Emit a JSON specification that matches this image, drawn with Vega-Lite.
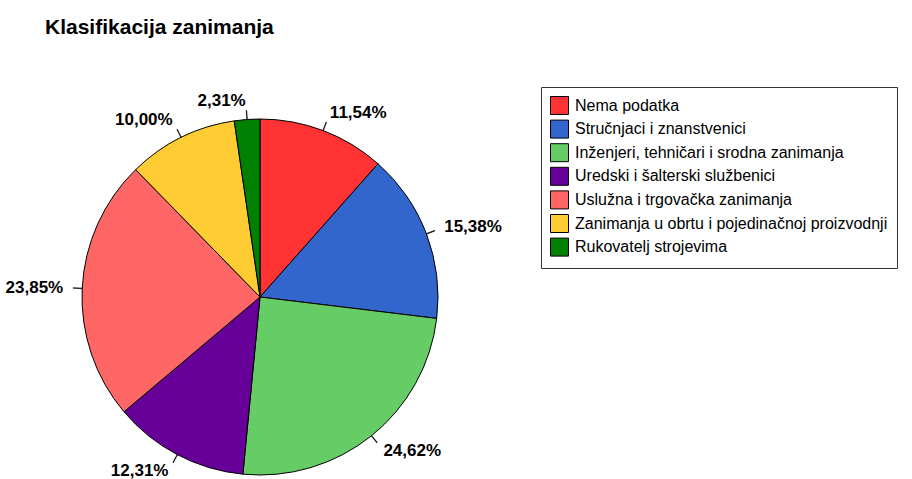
{
  "$schema": "https://vega.github.io/schema/vega-lite/v6.json",
  "width": 440,
  "height": 356,
  "autosize": {"type": "none"},
  "padding": {"left": 40, "top": 119, "right": 432, "bottom": 4},
  "background": "white",
  "title": {"text": "Klasifikacija zanimanja", "anchor": "start", "frame": "group", "offset": 49, "font": "Liberation Sans", "fontSize": 21, "fontWeight": "bold", "color": "black", "dx": 5},
  "config": {"view": {"stroke": null}, "font": "Liberation Sans"},
  "data": {"values": [
    {"kat": "Nema podatka", "pct": 11.54, "red": 1},
    {"kat": "Stručnjaci i znanstvenici", "pct": 15.38, "red": 2},
    {"kat": "Inženjeri, tehničari i srodna zanimanja", "pct": 24.62, "red": 3},
    {"kat": "Uredski i šalterski službenici", "pct": 12.31, "red": 4},
    {"kat": "Uslužna i trgovačka zanimanja", "pct": 23.85, "red": 5},
    {"kat": "Zanimanja u obrtu i pojedinačnoj proizvodnji", "pct": 10.00, "red": 6},
    {"kat": "Rukovatelj strojevima", "pct": 2.31, "red": 7}
  ]},
  "transform": [
    {"window": [{"op": "sum", "field": "pct", "as": "cum"}], "sort": [{"field": "red"}], "frame": [null, 0]},
    {"calculate": "datum.cum - datum.pct / 2", "as": "mid"},
    {"calculate": "datum.mid - 0.03", "as": "lo"},
    {"calculate": "datum.mid + 0.03", "as": "hi"},
    {"calculate": "replace(format(datum.pct, '.2f'), '.', ',') + '%'", "as": "lbl"}
  ],
  "layer": [
    {
      "mark": {"type": "arc", "outerRadius": 178, "stroke": "black", "strokeWidth": 1},
      "encoding": {
        "theta": {"field": "pct", "type": "quantitative", "stack": true},
        "order": {"field": "red", "type": "quantitative"},
        "color": {
          "field": "kat", "type": "nominal", "sort": null,
          "scale": {
            "domain": ["Nema podatka", "Stručnjaci i znanstvenici", "Inženjeri, tehničari i srodna zanimanja", "Uredski i šalterski službenici", "Uslužna i trgovačka zanimanja", "Zanimanja u obrtu i pojedinačnoj proizvodnji", "Rukovatelj strojevima"],
            "range": ["#FF3333", "#3366CC", "#66CC66", "#660099", "#FF6666", "#FFCC33", "#008000"]
          },
          "legend": {
            "title": null, "orient": "none", "legendX": 501, "legendY": -32,
            "symbolType": "square", "symbolSize": 324, "symbolStrokeColor": "black", "symbolStrokeWidth": 1,
            "labelFontSize": 16, "labelFont": "Liberation Sans", "labelColor": "black", "labelOffset": 6, "labelLimit": 500,
            "rowPadding": 0.6, "padding": 9, "strokeColor": "#333333", "fillColor": "white"
          }
        }
      }
    },
    {
      "mark": {"type": "arc", "innerRadius": 178, "outerRadius": 187, "fill": "black", "stroke": "black", "strokeWidth": 0.5},
      "encoding": {
        "theta": {"field": "lo", "type": "quantitative", "stack": null},
        "theta2": {"field": "hi"}
      }
    },
    {
      "transform": [{"filter": "datum.mid < 50"}],
      "mark": {"type": "text", "align": "left", "baseline": "middle", "radius": 197, "fontSize": 17, "fontWeight": "bold", "font": "Liberation Sans", "color": "black"},
      "encoding": {
        "theta": {"field": "mid", "type": "quantitative", "stack": null},
        "text": {"field": "lbl", "type": "nominal"}
      }
    },
    {
      "transform": [{"filter": "datum.mid >= 50"}],
      "mark": {"type": "text", "align": "right", "baseline": "middle", "radius": 197, "fontSize": 17, "fontWeight": "bold", "font": "Liberation Sans", "color": "black"},
      "encoding": {
        "theta": {"field": "mid", "type": "quantitative", "stack": null},
        "text": {"field": "lbl", "type": "nominal"}
      }
    }
  ]
}
